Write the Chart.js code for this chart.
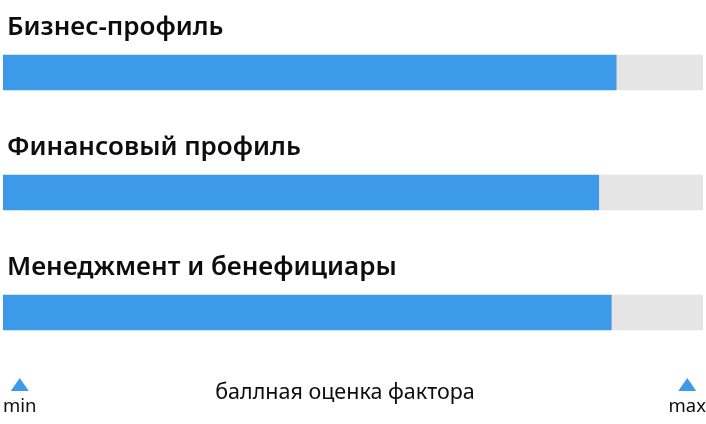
<!DOCTYPE html>
<html>
<head>
<meta charset="utf-8">
<script src="https://cdn.jsdelivr.net/npm/chart.js@4"></script>
<style>
  html, body { margin: 0; padding: 0; background: #fff; }
  #wrap { width: 706px; height: 424px; }
</style>
</head>
<body>
<div id="wrap"><canvas id="scoreChart" width="706" height="424"></canvas></div>
<script>
// ----------------------------------------------------------
// DATA
// ----------------------------------------------------------
const categories = ["Бизнес-профиль", "Финансовый профиль", "Менеджмент и бенефициары"];
const scores = [87.6, 85.1, 86.9];
const scaleMin = 0;
const scaleMax = 100;
const axisTitle = "баллная оценка фактора";
const minLabel = "min";
const maxLabel = "max";

const BLUE = "#3d9ae8";
const GREY = "#e5e5e5";
const FONT = "'Noto Sans', sans-serif";

// remainder to the max, so the grey track fills the rest of the row
const rest = scores.map(v => scaleMax - v);

// ----------------------------------------------------------
// PLUGIN: labels above bars + min/max markers under the chart
// ----------------------------------------------------------
const decorPlugin = {
    id: "decor",
    afterDraw(chart) {
        const ctx = chart.ctx;
        const x = chart.scales.x;
        const meta = chart.getDatasetMeta(0);

        ctx.save();
        ctx.fillStyle = "#0d0d0d";
        ctx.textAlign = "left";
        ctx.textBaseline = "alphabetic";
        ctx.font = "600 26px " + FONT;
        meta.data.forEach((bar, i) => {
            const top = bar.y - bar.height / 2;
            ctx.fillText(categories[i], x.left + 4, top - 20);
        });

        // min / max markers
        ctx.font = "18.5px " + FONT;
        const xMin = x.getPixelForValue(scaleMin);
        const xMax = x.getPixelForValue(scaleMax);
        const wMin = ctx.measureText(minLabel).width;
        const wMax = ctx.measureText(maxLabel).width;
        ctx.fillText(minLabel, xMin, 412);
        ctx.textAlign = "right";
        ctx.fillText(maxLabel, xMax + 3, 412);

        const tri = (cx) => {
            ctx.beginPath();
            ctx.moveTo(cx - 9, 391);
            ctx.lineTo(cx + 9, 391);
            ctx.lineTo(cx, 378);
            ctx.closePath();
            ctx.fillStyle = BLUE;
            ctx.fill();
        };
        tri(xMin + wMin / 2);
        tri(xMax + 3 - wMax / 2);

        // axis title
        ctx.fillStyle = "#0d0d0d";
        ctx.textAlign = "center";
        ctx.font = "21.5px " + FONT;
        ctx.fillText(axisTitle, (x.left + x.right) / 2 - 8, 399);
        ctx.restore();
    }
};

// ----------------------------------------------------------
// CHART
// ----------------------------------------------------------
const chartCtx = document.getElementById("scoreChart").getContext("2d");
new Chart(chartCtx, {
    type: "bar",
    data: {
        labels: categories,
        datasets: [{
            label: "score",
            data: scores,
            backgroundColor: BLUE,
            barThickness: 35,
            borderWidth: 0
        }, {
            label: "rest",
            data: rest,
            backgroundColor: GREY,
            barThickness: 35,
            borderWidth: 0
        }]
    },
    options: {
        indexAxis: "y",
        responsive: false,
        animation: false,
        layout: { padding: { top: 12.5, bottom: 51.5, left: 3, right: 3 } },
        scales: {
            x: { stacked: true, min: scaleMin, max: scaleMax, display: false },
            y: { stacked: true, display: false }
        },
        plugins: {
            legend: { display: false },
            tooltip: { enabled: false }
        }
    },
    plugins: [decorPlugin]
});
</script>
</body>
</html>
